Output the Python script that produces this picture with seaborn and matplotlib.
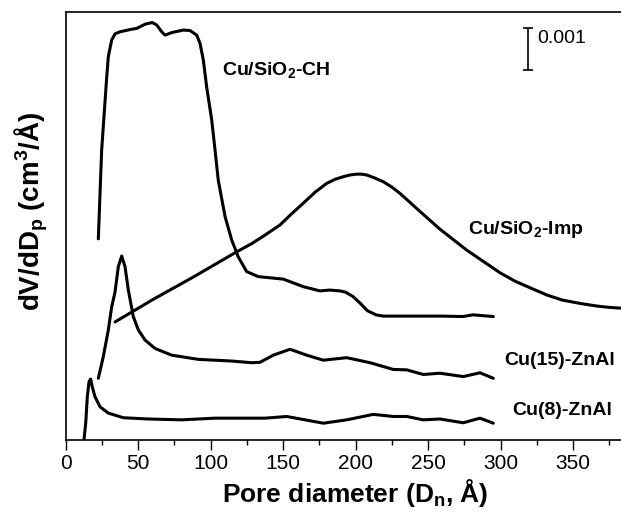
import matplotlib
matplotlib.use("Agg")
import matplotlib.pyplot as plt
import seaborn as sns
import pandas as pd

# ---- data (x: pore diameter in Å, y: dV/dDp in units of 0.001 cm3/Å, offset curves) ----
ch_x = [22.5, 24.8, 28.3, 29.4, 31.7, 34.0, 37.5, 45.5, 49.0, 54.7, 59.7, 62.8, 66.2, 68.5,
        73.1, 81.1, 85.7, 90.3, 92.6, 94.9, 97.2, 100.7, 103.0, 105.2, 109.9, 114.5, 119.0,
        124.8, 132.8, 150.1, 163.9, 175.4, 182.0, 189.2, 193.0, 198.0, 203.0, 208.0, 214.0,
        219.0, 258.1, 274.0, 280.9, 294.9]
ch_y = [4.79, 6.90, 8.65, 9.13, 9.52, 9.67, 9.72, 9.78, 9.80, 9.90, 9.94, 9.88, 9.72, 9.64,
        9.70, 9.76, 9.75, 9.64, 9.45, 9.05, 8.41, 7.62, 6.90, 6.19, 5.32, 4.76, 4.36,
        4.01, 3.89, 3.83, 3.65, 3.55, 3.57, 3.55, 3.52, 3.42, 3.26, 3.08, 2.98,
        2.95, 2.95, 2.94, 2.98, 2.94]

imp_x = [34.0, 60.4, 88.0, 117.9, 128.0, 137.5, 147.8, 155.0, 163.9, 172.0, 180.0, 186.0,
         191.5, 196.0, 200.7, 204.0, 207.6, 213.0, 219.0, 225.0, 230.6, 237.0, 244.4, 258.1,
         276.6, 299.6, 310.0, 321.9, 332.0, 342.7, 355.0, 366.2, 374.0, 382.5]
imp_y = [2.81, 3.35, 3.88, 4.48, 4.67, 4.88, 5.12, 5.36, 5.64, 5.90, 6.11, 6.21,
         6.27, 6.31, 6.33, 6.33, 6.31, 6.24, 6.15, 6.02, 5.87, 5.67, 5.44, 5.02,
         4.52, 3.98, 3.78, 3.60, 3.45, 3.33, 3.25, 3.19, 3.16, 3.14]

cu15_x = [22.5, 25.9, 29.4, 31.7, 34.0, 36.3, 38.6, 40.9, 43.2, 46.6, 50.1, 54.7, 61.6,
          73.1, 91.5, 114.5, 128.3, 134.0, 143.2, 154.7, 166.2, 177.7, 193.8, 209.9,
          225.9, 235.2, 246.6, 258.1, 274.2, 285.7, 294.9]
cu15_y = [1.47, 1.98, 2.62, 3.17, 3.52, 4.13, 4.38, 4.13, 3.57, 2.94, 2.62, 2.38, 2.18,
          2.02, 1.92, 1.88, 1.84, 1.85, 2.02, 2.16, 2.02, 1.90, 1.96, 1.84,
          1.68, 1.67, 1.56, 1.59, 1.51, 1.60, 1.47]

cu8_x = [12.6, 13.8, 14.9, 16.1, 17.2, 18.3, 20.2, 23.7, 29.4, 39.7, 57.0, 80.0, 103.0,
         125.9, 137.5, 152.4, 177.7, 193.8, 212.1, 225.9, 235.2, 246.6, 258.1, 274.2,
         285.7, 294.9]
cu8_y = [0.00, 0.40, 1.03, 1.39, 1.45, 1.27, 1.03, 0.79, 0.64, 0.53, 0.50, 0.48, 0.52,
         0.52, 0.52, 0.56, 0.40, 0.48, 0.61, 0.56, 0.56, 0.48, 0.50, 0.41,
         0.52, 0.40]

xticks = [0, 50, 100, 150, 200, 250, 300, 350]

sns.set_theme(style="ticks")
plt.rcParams['font.family'] = ['Liberation Sans', 'DejaVu Sans']
plt.rcParams['mathtext.default'] = 'regular'
plt.rcParams['text.color'] = 'black'
plt.rcParams['axes.labelcolor'] = 'black'
plt.rcParams['xtick.color'] = 'black'
plt.rcParams['xtick.labelcolor'] = 'black'

fig = plt.figure(figsize=(6.21, 5.16), dpi=100)
ax = fig.add_axes([65.7 / 621, 76 / 516, 580 / 621, 428 / 516])

for xs, ys in [(ch_x, ch_y), (imp_x, imp_y), (cu15_x, cu15_y), (cu8_x, cu8_y)]:
    df = pd.DataFrame({"x": xs, "y": ys})
    sns.lineplot(data=df, x="x", y="y", ax=ax, color="black", linewidth=2.2,
                 estimator=None, sort=False)

ax.set_xlim(0, 400)
ax.set_ylim(0, 428 / 42)
ax.set_xticks(xticks)
ax.set_xticklabels([str(t) for t in xticks])
ax.set_xticks([25, 75, 125, 175, 225, 275, 325, 375], minor=True)
ax.set_yticks([])
ax.tick_params(axis='x', which='major', direction='out', length=7, width=1.0,
               labelsize=15, pad=3, colors='black')
ax.tick_params(axis='x', which='minor', direction='out', length=3.5, width=1.0,
               colors='black')
for sp in ax.spines.values():
    sp.set_linewidth(1.2)
    sp.set_color('black')

ax.set_xlabel("Pore diameter (D$_n$, Å)", fontsize=19, fontweight='bold', labelpad=3,
              color='black')
ax.set_ylabel("dV/dD$_p$ (cm$^3$/Å)", fontsize=20, fontweight='bold', color='black')
ax.yaxis.set_label_coords(-0.060, 0.535)
ax.yaxis.label.set_va('center')

lab = dict(fontsize=14, fontweight='bold', color='black', va='baseline', ha='left')
ax.text(107.8, 8.69, "Cu/SiO$_2$-CH", **lab)
ax.text(277.4, 4.90, "Cu/SiO$_2$-Imp", **lab)
ax.text(302.2, 1.79, "Cu(15)-ZnAl", **lab)
ax.text(307.8, 0.60, "Cu(8)-ZnAl", **lab)

# scale bar: 0.001
ax.errorbar([318.9], [9.31], yerr=[0.5], color='black', elinewidth=1.2, capsize=3.5,
            capthick=1.2, fmt='none')
ax.text(325.0, 9.45, "0.001", fontsize=14, color='black', va='baseline', ha='left')

fig.savefig("out.png", dpi=100)
